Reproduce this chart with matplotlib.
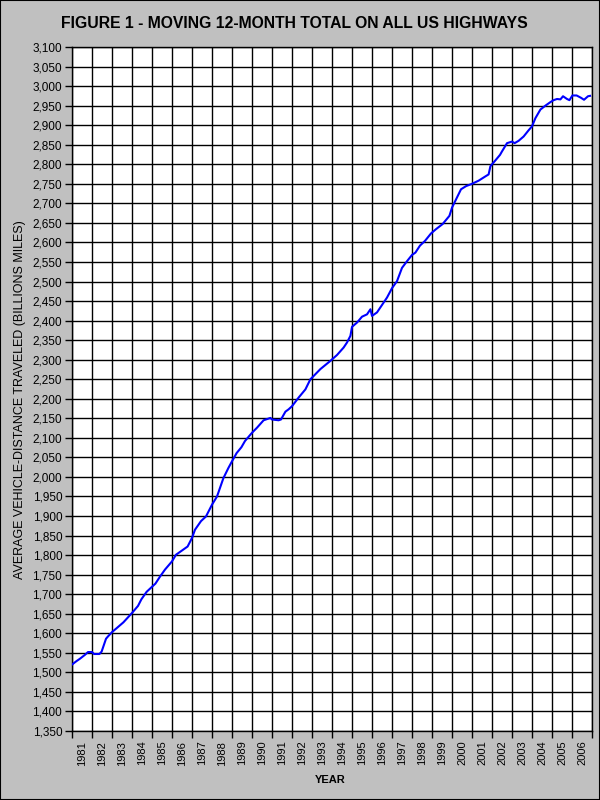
import matplotlib
matplotlib.use('Agg')
import matplotlib.pyplot as plt
from matplotlib.ticker import FuncFormatter, FixedLocator, MultipleLocator
from matplotlib.patches import Rectangle

# Moving 12-month total (decimal year, billions of miles)
years = [1981.0, 1981.23, 1981.4, 1981.65, 1981.8, 1982.0, 1982.1, 1982.37, 1982.48,
         1982.7, 1982.8, 1983.0, 1983.23, 1983.57, 1984.0, 1984.3, 1984.47, 1984.73,
         1985.0, 1985.17, 1985.4, 1985.65, 1986.0, 1986.2, 1986.45, 1986.78, 1987.0,
         1987.15, 1987.45, 1987.7, 1988.0, 1988.25, 1988.57, 1988.82, 1989.0, 1989.23,
         1989.47, 1989.65, 1990.0, 1990.25, 1990.58, 1990.92, 1991.0, 1991.33, 1991.45,
         1991.67, 1991.83, 1992.0, 1992.33, 1992.67, 1992.92, 1993.0, 1993.42, 1993.92,
         1994.25, 1994.58, 1994.75, 1994.92, 1995.0, 1995.25, 1995.5, 1995.75, 1995.92,
         1996.0, 1996.25, 1996.5, 1996.75, 1997.0, 1997.25, 1997.5, 1997.75, 1998.0,
         1998.17, 1998.4, 1998.65, 1998.95, 1999.2, 1999.53, 1999.87, 2000.0, 2000.2,
         2000.45, 2000.7, 2001.0, 2001.33, 2001.67, 2001.83, 2001.92, 2002.17, 2002.4,
         2002.5, 2002.75, 2003.0, 2003.13, 2003.33, 2003.58, 2003.83, 2004.0, 2004.17,
         2004.42, 2004.67, 2004.92, 2005.08, 2005.25, 2005.42, 2005.55, 2005.75, 2005.87,
         2006.02, 2006.23, 2006.45, 2006.6, 2006.8, 2006.9]
vmt = [1520, 1529, 1535, 1545, 1552, 1552, 1547, 1547, 1553,
       1586, 1592, 1603, 1613, 1628, 1652, 1670, 1687, 1706,
       1719, 1727, 1745, 1763, 1784, 1801, 1810, 1822, 1844,
       1865, 1887, 1899, 1929, 1950, 1997, 2023, 2040, 2061,
       2076, 2092, 2113, 2126, 2145, 2151, 2147, 2145, 2147,
       2167, 2173, 2181, 2203, 2224, 2250, 2254, 2276, 2297,
       2312, 2331, 2344, 2361, 2384, 2395, 2410, 2416, 2429,
       2412, 2421, 2440, 2459, 2483, 2501, 2535, 2552, 2568,
       2574, 2592, 2604, 2623, 2634, 2647, 2668, 2689, 2710,
       2736, 2744, 2750, 2758, 2769, 2774, 2795, 2810, 2824,
       2833, 2854, 2858, 2854, 2860, 2871, 2887, 2897, 2918,
       2940, 2950, 2959, 2964, 2967, 2966, 2974, 2967, 2964,
       2976, 2976, 2970, 2965, 2974, 2975]
year_labels = [str(y) for y in range(1981, 2007)]

plt.rcParams['font.family'] = ['Liberation Sans', 'DejaVu Sans']

fig = plt.figure(figsize=(6, 8), dpi=100, facecolor='#c0c0c0')
# black frame round the whole picture
fig.patches.append(Rectangle((0, 0), 1, 1, transform=fig.transFigure, fill=False,
                             edgecolor='black', linewidth=1.5))

ax = fig.add_axes([0.12, 0.08625, 0.8667, 0.855])
ax.set_facecolor('white')
ax.plot(years, vmt, color='#0000ff', linewidth=1.5, zorder=3)

ax.set_xlim(1981, 2007)
ax.set_ylim(1350, 3100)

# gridlines on year boundaries, labels centred in each year
ax.xaxis.set_major_locator(MultipleLocator(1))
ax.xaxis.set_major_formatter(FuncFormatter(lambda v, p: ''))
ax.xaxis.set_minor_locator(FixedLocator([y + 0.5 for y in range(1981, 2007)]))
ax.set_xticklabels(year_labels, minor=True, rotation=90, fontsize=8)
ax.tick_params(axis='x', which='minor', length=0, pad=7)
ax.tick_params(axis='x', which='major', length=5, width=1, direction='out')

ax.yaxis.set_major_locator(MultipleLocator(50))
ax.yaxis.set_major_formatter(FuncFormatter(lambda v, p: f'{int(v):,}'))
ax.tick_params(axis='y', length=5, width=1, direction='out', labelsize=8.5, pad=2)

ax.grid(True, which='major', color='black', linewidth=1.0)
for s in ax.spines.values():
    s.set_linewidth(1.0)

fig.text(0.49, 0.971, 'FIGURE 1 - MOVING 12-MONTH TOTAL ON ALL US HIGHWAYS',
         ha='center', va='center', fontsize=11.3, fontweight='bold')
fig.text(0.034, 0.5, 'AVERAGE VEHICLE-DISTANCE TRAVELED (BILLIONS MILES)',
         rotation=90, ha='center', va='center', fontsize=9)
fig.text(0.55, 0.025, 'YEAR', ha='center', va='center', fontsize=8, fontweight='bold')

fig.savefig('out.png', dpi=100, facecolor=fig.get_facecolor())
